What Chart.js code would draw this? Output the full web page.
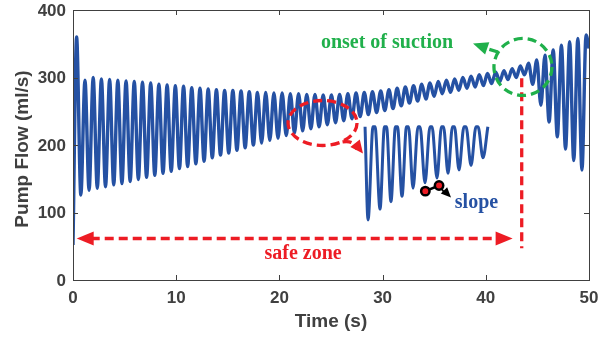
<!DOCTYPE html>
<html>
<head>
<meta charset="utf-8">
<script src="https://cdn.jsdelivr.net/npm/chart.js@4.4.0/dist/chart.umd.min.js"></script>
<style>
    html, body { margin: 0; padding: 0; background: #fff; }
    #wrap { width: 613px; height: 339px; }
</style>
</head>
<body>
<div id="wrap"><canvas id="flowChart" width="613" height="339"></canvas></div>
<script>
// 축 눈금
const timeTicks = [0, 10, 20, 30, 40, 50];
const flowTicks = [0, 100, 200, 300, 400];

// 기동 구간 (스파이크)
const startTime = [0, 0.35, 0.76];
const startFlow = [52, 360, 126];

// 박동 주기 (s) 및 첫 피크 시각
const firstPeakTime = 1.16;
const beatPeriod = 0.796;

// 박동별 최대 유량
const peakFlow = [
    296, 300, 298, 297, 296, 295, 294, 293, 292, 290,
    289, 288, 287, 285, 284, 283, 282, 281, 281, 280,
    279, 278, 278, 277, 277, 276, 276, 275, 275, 274,
    274, 275, 276, 277, 278, 279, 280, 282, 284, 286,
    288, 290, 292, 294, 296, 298, 300, 302, 304, 306,
    308, 310, 313, 317, 321, 326, 333, 341, 348, 353,
    358, 363
];
// 박동별 최소 유량 (피크 사이)
const troughFlow = [
    133, 136, 138, 141, 143, 146, 149, 152, 155, 158,
    161, 165, 168, 172, 176, 181, 185, 188, 192, 196,
    200, 203, 207, 210, 214, 218, 221, 224, 227, 230,
    233, 236, 239, 242, 245, 248, 251, 254, 258, 262,
    265, 268, 272, 276, 278, 281, 284, 286, 288, 291,
    294, 297, 300, 304, 290, 259, 234, 212, 194, 177,
    163
];
const endTime = 50;
const endFlow = 343;

// 확대 삽입 그림
const insetTroughTime = [28.59, 29.75, 30.81, 31.88, 32.95, 34.11, 35.27, 36.34, 37.40, 38.57, 39.73];
const insetTroughFlow = [89, 105, 116, 124, 136, 144, 151, 158, 163, 170, 181];
const insetTop = 227;
const insetStart = 28.3;
const insetEnd = 40.2;

const lineBlue = '#2551a3';
const red = '#ed1c24';
const green = '#20b04b';
const axisGray = '#404040';
const tickFont = 'bold 17px "Liberation Sans", Arial, sans-serif';

function buildFlowPoints() {
    const pts = [];
    for (let i = 0; i < startTime.length; i++) {
        pts.push({ x: startTime[i], y: startFlow[i] });
    }
    for (let k = 0; k < peakFlow.length; k++) {
        const t = firstPeakTime + beatPeriod * k;
        pts.push({ x: t, y: peakFlow[k] });
        if (k < troughFlow.length) {
            pts.push({ x: t + beatPeriod / 2, y: troughFlow[k] });
        }
    }
    pts.push({ x: endTime, y: endFlow });
    return pts;
}

// 삽입도: 윗부분이 잘린 파형 (평평한 윗변)
function buildInsetPoints() {
    const pts = [{ x: insetStart, y: insetTop }];
    for (let i = 0; i < insetTroughTime.length; i++) {
        pts.push({ x: insetTroughTime[i], y: insetTroughFlow[i] });
        if (i + 1 < insetTroughTime.length) {
            const mid = (insetTroughTime[i] + insetTroughTime[i + 1]) / 2;
            pts.push({ x: mid - 0.1, y: insetTop });
            pts.push({ x: mid + 0.1, y: insetTop });
        } else {
            pts.push({ x: insetEnd, y: insetTop });
        }
    }
    return pts;
}

function arrowHead(ctx, fromX, fromY, tipX, tipY, len, half, color) {
    const a = Math.atan2(tipY - fromY, tipX - fromX);
    ctx.save();
    ctx.setLineDash([]);
    ctx.fillStyle = color;
    ctx.beginPath();
    ctx.moveTo(tipX, tipY);
    ctx.lineTo(tipX - len * Math.cos(a) + half * Math.sin(a), tipY - len * Math.sin(a) - half * Math.cos(a));
    ctx.lineTo(tipX - len * Math.cos(a) - half * Math.sin(a), tipY - len * Math.sin(a) + half * Math.cos(a));
    ctx.closePath();
    ctx.fill();
    ctx.restore();
}

// 축 박스, 안쪽 눈금, 주석 그리기
const annotatePlugin = {
    id: 'annotate',
    afterDatasetsDraw(chart) {
        const ctx = chart.ctx;
        const xs = chart.scales.x;
        const ys = chart.scales.y;
        const X = v => xs.getPixelForValue(v);
        const Y = v => ys.getPixelForValue(v);
        const area = chart.chartArea;

        ctx.save();
        // 박스
        ctx.strokeStyle = axisGray;
        ctx.lineWidth = 1;
        ctx.strokeRect(area.left + 0.5, area.top + 0.5, area.right - area.left, area.bottom - area.top);
        // 안쪽 눈금
        ctx.beginPath();
        timeTicks.forEach(t => {
            const x = Math.round(X(t)) + 0.5;
            ctx.moveTo(x, area.bottom); ctx.lineTo(x, area.bottom - 5);
            ctx.moveTo(x, area.top); ctx.lineTo(x, area.top + 5);
        });
        flowTicks.forEach(v => {
            const y = Math.round(Y(v)) + 0.5;
            ctx.moveTo(area.left, y); ctx.lineTo(area.left + 5, y);
            ctx.moveTo(area.right, y); ctx.lineTo(area.right - 5, y);
        });
        ctx.stroke();

        // y 눈금 글자
        ctx.fillStyle = axisGray;
        ctx.font = tickFont;
        ctx.textAlign = 'right';
        ctx.textBaseline = 'middle';
        flowTicks.forEach(v => {
            ctx.fillText(String(v), area.left - 7, Y(v) + 1);
        });

        // 축 제목
        ctx.font = 'bold 19px "Liberation Sans", Arial, sans-serif';
        ctx.textAlign = 'center';
        ctx.fillText('Time (s)', (area.left + area.right) / 2, 322);
        ctx.save();
        ctx.translate(23, 149);
        ctx.rotate(-Math.PI / 2);
        ctx.fillText('Pump Flow (ml/s)', 0, 0);
        ctx.restore();

        // 빨간 점선 타원 + 화살표
        ctx.lineWidth = 3.3;
        ctx.strokeStyle = red;
        ctx.setLineDash([9, 5]);
        const ex = X(24.18), ey = Y(232.6);
        ctx.beginPath();
        ctx.ellipse(ex, ey, 34.5, 22.5, 0, 0, Math.PI * 2);
        ctx.stroke();
        const rtX = X(28.1), rtY = Y(187.4);
        ctx.beginPath();
        ctx.moveTo(ex + 20, ey + 19);
        ctx.quadraticCurveTo(ex + 32, ey + 17, rtX - 6, rtY - 4);
        ctx.stroke();
        arrowHead(ctx, ex + 30, ey + 17, rtX, rtY, 13, 6, red);

        // 세로 점선
        ctx.beginPath();
        ctx.moveTo(X(43.48), Y(299));
        ctx.lineTo(X(43.48), Y(47));
        ctx.stroke();

        // safe zone 양방향 화살표
        const hy = Y(61.5);
        const hx1 = X(0.36), hx2 = X(42.6);
        ctx.beginPath();
        ctx.moveTo(hx1 + 14, hy);
        ctx.lineTo(hx2 - 14, hy);
        ctx.stroke();
        arrowHead(ctx, hx2 - 20, hy, hx2, hy, 17, 7, red);
        arrowHead(ctx, hx1 + 20, hy, hx1, hy, 17, 7, red);

        // 초록 점선 원 + 화살표
        ctx.strokeStyle = green;
        const gx = X(43.6), gy = Y(315.6);
        ctx.beginPath();
        ctx.ellipse(gx, gy, 29, 28.5, 0, 0, Math.PI * 2);
        ctx.stroke();
        const gtX = X(38.76), gtY = Y(350.4);
        const gsX = gx - 25, gsY = gy - 15;
        ctx.beginPath();
        ctx.moveTo(gsX, gsY);
        ctx.lineTo(gtX + 10, gtY + 4);
        ctx.stroke();
        arrowHead(ctx, gsX, gsY, gtX, gtY, 15, 6.5, green);

        // 기울기 점 + 화살표
        ctx.setLineDash([]);
        const d1x = X(34.14), d1y = Y(131.6);
        const d2x = X(35.47), d2y = Y(140);
        const stX = X(36.63), stY = Y(122.2);
        ctx.strokeStyle = '#000';
        ctx.lineWidth = 2;
        ctx.beginPath();
        ctx.moveTo(d2x, d2y);
        ctx.lineTo(stX - 6, stY - 4);
        ctx.stroke();
        arrowHead(ctx, d2x, d2y, stX, stY, 10, 4.5, '#000');
        ctx.lineWidth = 2.5;
        ctx.beginPath();
        ctx.moveTo(d1x, d1y);
        ctx.lineTo(d2x, d2y);
        ctx.stroke();
        [[d1x, d1y], [d2x, d2y]].forEach(p => {
            ctx.beginPath();
            ctx.arc(p[0], p[1], 4.2, 0, Math.PI * 2);
            ctx.fillStyle = red;
            ctx.fill();
            ctx.stroke();
        });

        // 글자
        ctx.font = 'bold 20px "Liberation Serif", "Times New Roman", serif';
        ctx.textBaseline = 'alphabetic';
        ctx.fillStyle = green;
        ctx.textAlign = 'center';
        ctx.fillText('onset of suction', X(30.43), Y(351.9) + 6);
        ctx.fillStyle = red;
        ctx.fillText('safe zone', X(22.29), Y(40.7) + 6);
        ctx.fillStyle = lineBlue;
        ctx.textAlign = 'left';
        ctx.fillText('slope', X(37.0), Y(107.4));
        ctx.restore();
    }
};

function drawChart() {
    const ctx = document.getElementById('flowChart').getContext('2d');
    window.chart = new Chart(ctx, {
        type: 'line',
        data: {
            datasets: [{
                data: buildFlowPoints(),
                borderColor: lineBlue,
                borderWidth: 3.4,
                pointRadius: 0,
                cubicInterpolationMode: 'monotone',
                fill: false
            }, {
                data: buildInsetPoints(),
                borderColor: lineBlue,
                borderWidth: 3,
                pointRadius: 0,
                cubicInterpolationMode: 'monotone',
                fill: false
            }]
        },
        options: {
            responsive: false,
            animation: false,
            events: [],
            layout: {
                padding: { left: 0, top: 10, right: 24, bottom: 0 }
            },
            plugins: {
                legend: { display: false },
                tooltip: { enabled: false }
            },
            scales: {
                x: {
                    type: 'linear',
                    min: 0,
                    max: 50,
                    afterBuildTicks: s => { s.ticks = timeTicks.map(v => ({ value: v })); },
                    afterFit: s => { s.height = 59; },
                    grid: { display: false, drawTicks: false },
                    border: { display: false },
                    ticks: {
                        color: axisGray,
                        padding: 8,
                        maxRotation: 0,
                        font: { family: '"Liberation Sans", Arial, sans-serif', size: 17, weight: 'bold' }
                    }
                },
                y: {
                    min: 0,
                    max: 400,
                    afterBuildTicks: s => { s.ticks = flowTicks.map(v => ({ value: v })); },
                    afterFit: s => { s.width = 73; },
                    grid: { display: false, drawTicks: false },
                    border: { display: false },
                    ticks: { display: false }
                }
            }
        },
        plugins: [annotatePlugin]
    });
}

document.addEventListener('DOMContentLoaded', () => {
    drawChart();
});
</script>
</body>
</html>
